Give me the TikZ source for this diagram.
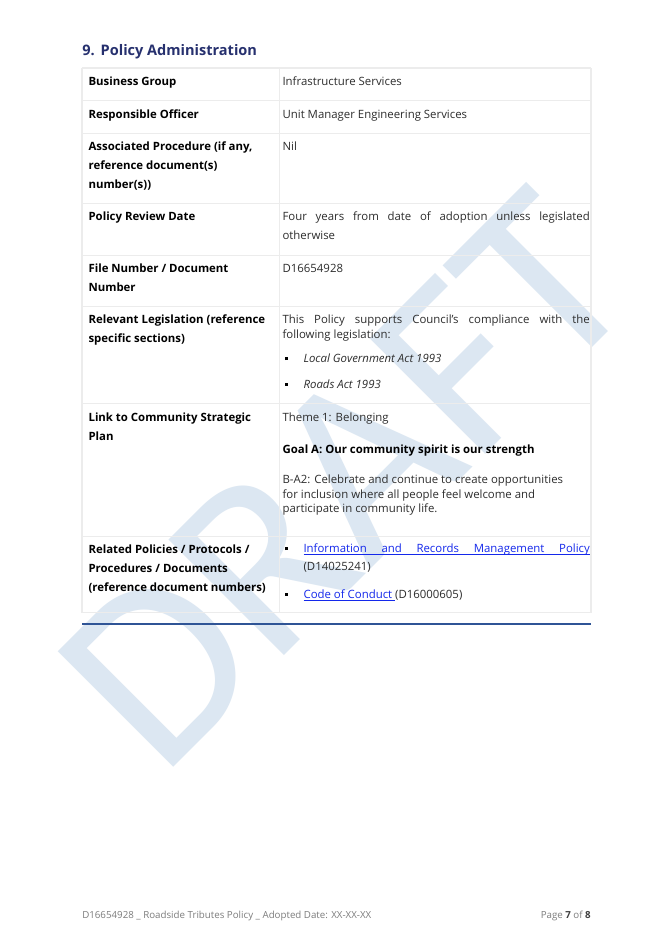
\documentclass[tikz,border=0pt]{standalone}
\usepackage{fontspec}
\setmainfont{Open Sans}
\newfontfamily\wmfont{Carlito}
\definecolor{wmblue}{RGB}{220,231,242}
\definecolor{titleblue}{RGB}{38,48,110}
\definecolor{gridgray}{RGB}{236,236,236}
\definecolor{ruleblue}{RGB}{47,84,150}
\definecolor{linkblue}{RGB}{20,40,235}
\definecolor{bodytext}{RGB}{45,45,45}
\definecolor{foottext}{RGB}{125,125,125}
\tikzset{
  tx/.style={anchor=base west, inner sep=0pt, text=bodytext, font=\fontsize{8.55pt}{11pt}\selectfont},
  hd/.style={anchor=base west, inner sep=0pt, text=black, font=\fontsize{8.55pt}{11pt}\selectfont\bfseries},
  it/.style={tx, font=\fontsize{8.55pt}{11pt}\selectfont\itshape},
  bul/.style={anchor=base west, inner sep=0pt, text=black, font=\fontsize{8.55pt}{11pt}\selectfont},
  foot/.style={anchor=base west, inner sep=0pt, text=foottext, font=\fontsize{7.3pt}{9pt}\selectfont},
  gridline/.style={draw=gridgray, line width=0.9pt},
  bluerule/.style={draw=ruleblue, line width=1pt},
  wm/.style={inner sep=0pt, text=wmblue, font=\wmfont\fontsize{191pt}{200pt}\selectfont}
}
\newcommand{\blt}{\rule[1.9pt]{2.1pt}{2.1pt}}
\newcommand{\lnk}[1]{\textcolor{linkblue}{\underline{\smash{#1}}}}
\begin{document}
\begin{tikzpicture}[x=0.75pt,y=-0.75pt]
\useasboundingbox[fill=white] (0,0) rectangle (670,947);
% watermark
\node[wm, rotate=45] (wmark) at (345,480) {DRAFT};
% title
\node[anchor=base west, inner sep=0pt, text=titleblue, font=\fontsize{10.9pt}{13pt}\selectfont\bfseries] (title) at (82,55) {9.\hspace{4.5pt}Policy Administration};
% table rules
\foreach \yy in {68,100.7,133.3,203.3,255.7,306.3,403.5,536.3,612.5}
  \draw[gridline] (82,\yy) -- (591,\yy);
\foreach \xx in {82,279.3,591}
  \draw[gridline] (\xx,68) -- (\xx,612.5);
\draw[bluerule] (82,624) -- (591,624);
% left column
\node[hd] (l1) at (88.3,85.6) {Business Group};
\node[hd] (l2) at (88.3,118) {Responsible Officer};
\node[hd] (l3a) at (88.3,150.7) {Associated Procedure (if any,};
\node[hd] (l3b) at (88.3,169.7) {reference document(s)};
\node[hd] (l3c) at (88.3,188.7) {number(s))};
\node[hd] (l4) at (88.3,220.5) {Policy Review Date};
\node[hd] (l5a) at (88.3,272) {File Number / Document};
\node[hd] (l5b) at (88.3,291) {Number};
\node[hd] (l6a) at (88.3,323) {Relevant Legislation (reference};
\node[hd] (l6b) at (88.3,342) {specific sections)};
\node[hd] (l7a) at (88.3,421) {Link to Community Strategic};
\node[hd] (l7b) at (88.3,440) {Plan};
\node[hd] (l8a) at (88.3,553) {Related Policies / Protocols /};
\node[hd] (l8b) at (88.3,572) {Procedures / Documents};
\node[hd] (l8c) at (88.3,591) {(reference document numbers)};
% right column
\node[tx] (r1) at (282.3,85.6) {Infrastructure Services};
\node[tx] (r2) at (282.3,118) {Unit Manager Engineering Services};
\node[tx] (r3) at (282.3,150.7) {Nil};
\node[tx] (r4a) at (282.3,220.5) {\makebox[230.4pt][s]{Four years from date of adoption unless legislated}};
\node[tx] (r4b) at (282.3,239.5) {otherwise};
\node[tx] (r5) at (282.3,272) {D16654928};
\node[tx] (r6a) at (282.3,323) {\makebox[230.4pt][s]{This Policy supports Council’s compliance with the}};
\node[tx] (r6b) at (282.3,338.5) {following legislation:};
\node[bul] (b6c) at (284.5,362.7) {\blt};
\node[it] (r6c) at (303.3,362.7) {Local Government Act 1993};
\node[bul] (b6d) at (284.5,388.3) {\blt};
\node[it] (r6d) at (303.3,388.3) {Roads Act 1993};
\node[tx] (r7a) at (282.3,421) {Theme 1: Belonging};
\node[hd] (r7b) at (282.3,453.3) {Goal A: Our community spirit is our strength};
\node[tx] (r7c) at (282.3,483.3) {B-A2: Celebrate and continue to create opportunities};
\node[tx] (r7d) at (282.3,498) {for inclusion where all people feel welcome and};
\node[tx] (r7e) at (282.3,512.7) {participate in community life.};
\node[bul] (b8a) at (284.5,552.7) {\blt};
\node[tx] (r8a) at (303.3,552.7) {\lnk{\makebox[214.7pt][s]{Information and Records Management Policy}}};
\node[tx] (r8b) at (303.3,570) {(D14025241)};
\node[bul] (b8c) at (284.5,598.3) {\blt};
\node[tx] (r8c) at (303.3,598.3) {\lnk{Code of Conduct\ }(D16000605)};
% footer
\node[foot] (f1) at (82,918) {D16654928 \_ Roadside Tributes Policy \_ Adopted Date: XX-XX-XX};
\node[foot, anchor=base east] (f2) at (591,918) {Page \textcolor{black!75}{\bfseries 7} of \textcolor{black!75}{\bfseries 8}};
\end{tikzpicture}
\end{document}
